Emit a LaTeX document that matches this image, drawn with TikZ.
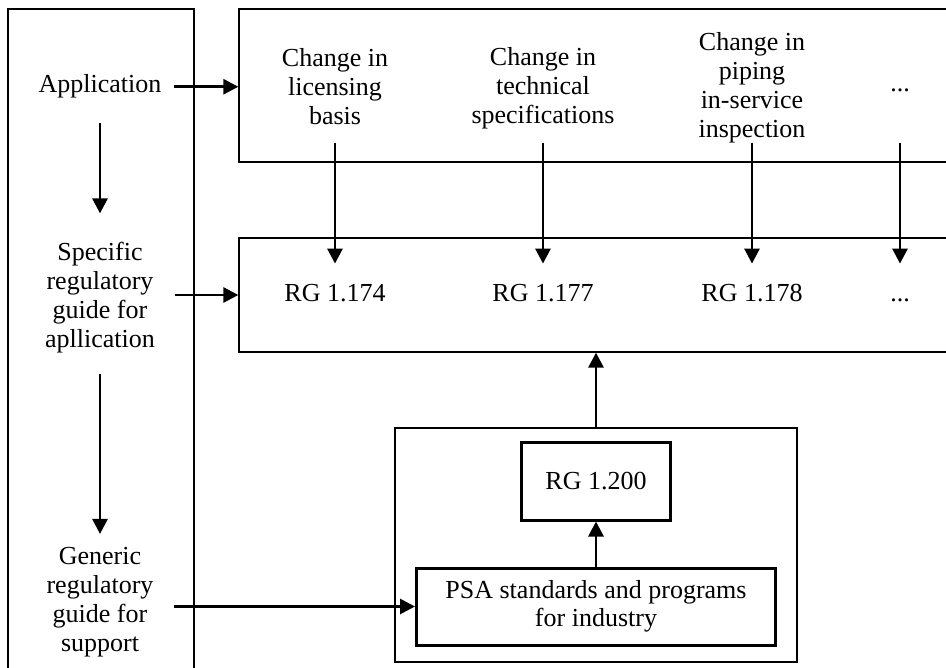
\documentclass[tikz,border=0pt]{standalone}
\usepackage{fontspec}
\setmainfont{Liberation Serif}
\usetikzlibrary{arrows.meta,calc}
\begin{document}
\begin{tikzpicture}[x=1pt,y=-1pt,
  thinbox/.style={draw, line width=1.3pt, rectangle, inner sep=0pt},
  thickbox/.style={draw, line width=3pt, rectangle, inner sep=0pt, font=\fontsize{26}{29}\selectfont, align=center},
  lbl/.style={font=\fontsize{26}{29}\selectfont, align=center, inner sep=0pt},
  arr/.style={line width=2.8pt, -{Triangle[length=15pt,width=15pt]}},
]
\useasboundingbox (0,0) rectangle (946,668);
% containers
\node[thinbox, minimum width=186pt, minimum height=671pt] (left) at (101,344.5) {};
\node[thinbox, minimum width=721pt, minimum height=153pt] (top) at (599.5,85.5) {};
\node[thinbox, minimum width=721pt, minimum height=114pt] (rg) at (599.5,295) {};
\node[thinbox, minimum width=402pt, minimum height=234pt] (sup) at (596,545) {};
\node[thickbox, minimum width=149pt, minimum height=77pt] (r200) at (596,481.5) {RG 1.200};
\node[thickbox, minimum width=359pt, minimum height=77pt] (psa) at (596,606.5) {\raisebox{-4pt}{\begin{tabular}{@{}c@{}}PSA standards and programs\\[-1pt]for industry\end{tabular}}};
% left column texts
\node[lbl, anchor=base] (app) at (100,93) {Application};
\node[lbl] (spec) at (100,298) {Specific\\regulatory\\guide for\\apllication};
\node[lbl] (gen) at (100,602) {Generic\\regulatory\\guide for\\support};
% top row texts
\node[lbl] (t1) at (335,87) {Change in\\licensing\\basis};
\node[lbl] (t2) at (543,88) {Change in\\technical\\specifications};
\node[lbl] (t3) at (752,88) {Change in\\piping\\in-service\\inspection};
\node[lbl, anchor=base] (t4) at (900,92) {...};
% RG row texts
\node[lbl, anchor=base] (r1) at (335,302) {RG 1.174};
\node[lbl, anchor=base] (r2) at (543,302) {RG 1.177};
\node[lbl, anchor=base] (r3) at (752,302) {RG 1.178};
\node[lbl, anchor=base] (r4) at (900,302) {...};
% connectors
\draw[arr] ([xshift=12pt]app.east) -- (app.east -| top.west);
\draw[arr, shorten <=24pt, shorten >=29pt] (app.south) -- (spec.north);
\draw[arr] ([xshift=20pt,yshift=3pt]spec.east) -- ([yshift=3pt]spec.east -| rg.west);
\draw[arr, shorten <=20pt, shorten >=13pt] (spec.south) -- (gen.north);
\draw[arr] ([xshift=20pt]gen.east |- psa.west) -- (psa.west);
\foreach \i in {1,2,3,4}
  \draw[arr] ([yshift=20pt]t\i.center |- top.south) -- ([yshift=21pt]r\i.center |- r1.north);
\draw[arr] (sup.north) -- (sup.north |- rg.south);
\draw[arr] (psa.north) -- (r200.south);
\end{tikzpicture}
\end{document}
